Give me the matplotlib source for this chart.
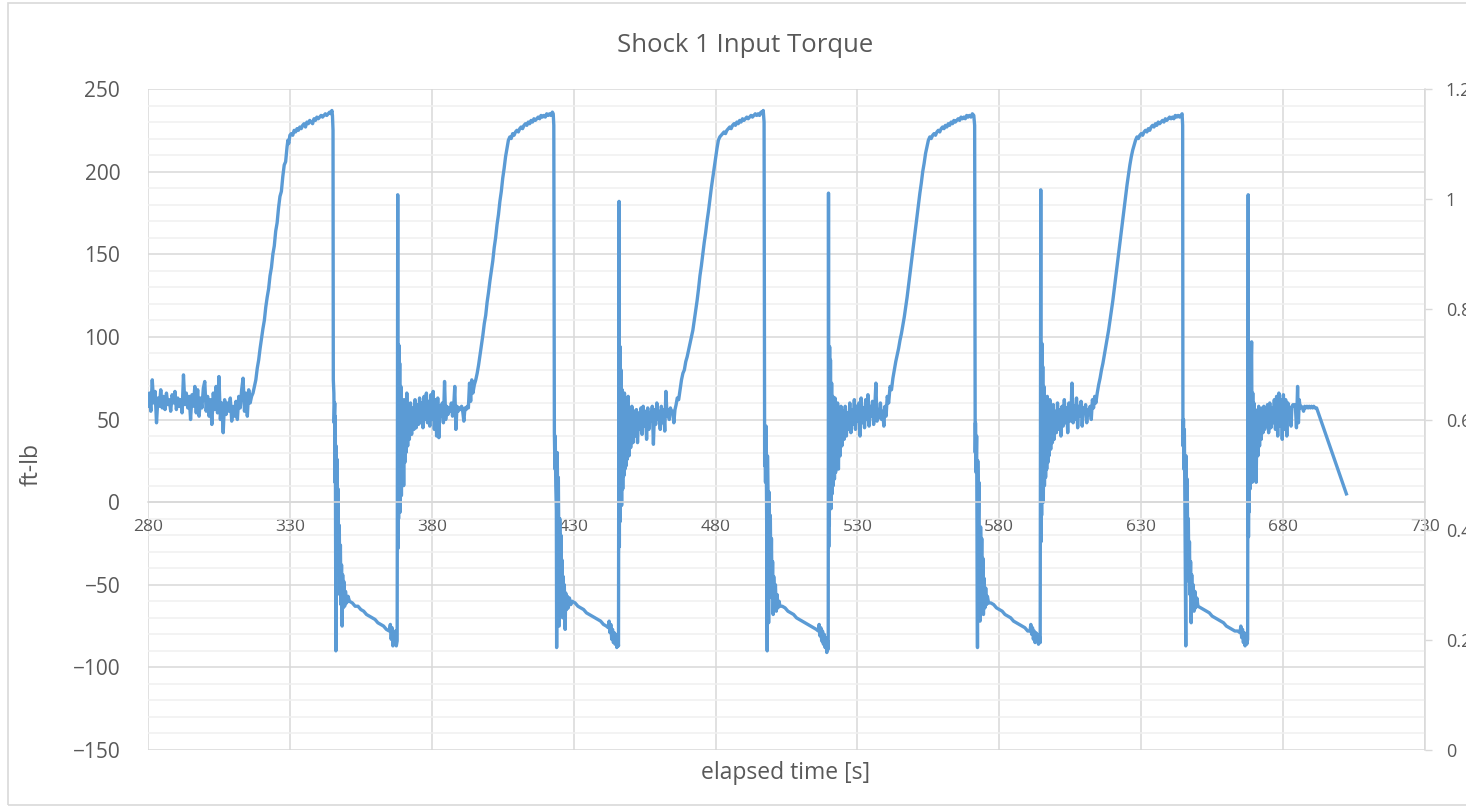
import matplotlib.pyplot as plt
from matplotlib.patches import Rectangle
from matplotlib.ticker import MultipleLocator

plt.rcParams['font.family'] = ['Open Sans', 'DejaVu Sans']

TEXT = '#595959'
GRID = '#d9d9d9'
MINOR = '#f0f0f0'
BLUE = '#5b9bd5'

# idle torque before the first shock
t_idle = [280.0, 280.5, 281.0, 281.5, 282.0, 282.5, 283.0, 283.5, 284.0, 284.5,
          285.0, 285.5, 286.0, 286.5, 287.0, 287.5, 288.0, 288.5, 289.0, 289.5,
          290.0, 290.5, 291.0, 291.5, 292.0, 292.5, 293.0, 293.5, 294.0, 294.5,
          295.0, 295.5, 296.0, 296.5, 297.0, 297.5, 298.0, 298.5, 299.0, 299.5,
          300.0, 300.5, 301.0, 301.5, 302.0, 302.5, 303.0, 303.5, 304.0, 304.5,
          305.0, 305.5, 306.0, 306.5, 307.0, 307.5, 308.0, 308.5, 309.0, 309.5,
          310.0, 310.5, 311.0, 311.5, 312.0, 312.5, 313.0, 313.5, 314.0, 314.5,
          315.0, 315.5, 316.0, 316.5]
tq_idle = [58, 66, 55, 74, 60, 67, 48, 63, 58, 68,
           57, 64, 56, 66, 59, 62, 55, 65, 60, 67,
           56, 63, 58, 62, 54, 77, 59, 66, 57, 64,
           50, 65, 58, 70, 54, 68, 52, 63, 57, 69,
           73, 55, 64, 52, 62, 47, 66, 56, 70, 54,
           76, 50, 60, 42, 62, 53, 60, 55, 63, 49,
           58, 52, 61, 50, 64, 57, 68, 75, 55, 66,
           52, 68, 60, 64]

# shock 1: ramp, hold, release, rebound spike, settle
t_shock1 = [317.0, 317.5, 318.0, 318.5, 319.0, 319.5, 320.0, 320.5, 321.0, 321.5,
            322.0, 322.5, 323.0, 323.5, 324.0, 324.5, 325.0, 325.5, 326.0, 326.5,
            327.0, 327.5, 328.0, 328.5, 329.0, 329.3, 329.6, 330.0,
            330.5, 331.0, 331.5, 332.0, 332.5, 333.0, 333.5, 334.0, 334.5, 335.0,
            335.5, 336.0, 336.5, 337.0, 337.5, 338.0, 338.5, 339.0, 339.5, 340.0,
            340.5, 341.0, 341.5, 342.0, 342.5, 343.0, 343.5, 344.0, 344.5, 344.8, 345.0,
            345.2, 345.3, 345.5, 345.6, 345.8, 345.9, 346.0, 346.1, 346.2, 346.3,
            346.5, 346.6, 346.8, 347.0, 347.2, 347.4, 347.6, 347.8, 348.0, 348.2,
            348.4, 348.6, 348.8, 349.0, 349.3, 349.6, 350.0, 350.5,
            351.0, 352.0, 353.0, 354.0, 355.0, 356.0, 357.0, 358.0, 359.0, 360.0,
            361.0, 362.0, 363.0, 364.0, 365.0,
            365.4, 365.7, 366.0, 366.3, 366.6, 366.9, 367.2, 367.5, 367.8,
            368.0, 368.1, 368.2, 368.3, 368.4, 368.5, 368.7, 368.9, 369.1, 369.3,
            369.5, 369.7, 369.9, 370.1, 370.3, 370.5, 370.7, 370.9, 371.2, 371.5,
            371.8, 372.1, 372.5, 372.9, 373.3, 373.7, 374.1, 374.5, 374.9, 375.3,
            375.7, 376.1, 376.5, 376.9, 377.3, 377.7, 378.1, 378.5, 378.9, 379.3,
            379.7, 380.1, 380.5, 380.9, 381.3, 381.7, 382.1, 382.5, 382.9, 383.3,
            383.7, 384.1, 384.5, 384.9, 385.3, 385.7, 386.1, 386.5, 386.9, 387.3,
            387.7, 388.1, 388.5, 388.9, 389.3, 389.7, 390.1, 390.5, 390.9, 391.3,
            391.7, 392.1, 392.5, 392.9, 393.3, 393.7, 394.1, 394.5]
tq_shock1 = [66, 70, 74, 81, 86, 93, 99, 105, 110, 118,
             124, 129, 137, 142, 150, 155, 164, 169, 178, 185,
             188, 197, 204, 206, 215, 219, 217, 222,
             223, 222, 225, 224, 226, 225, 227, 226, 228, 229,
             227, 230, 229, 231, 230, 229, 232, 231, 233, 232,
             233, 234, 233, 234, 235, 234, 235, 236, 235, 237, 234,
             225, 74, 66, 48, 60, 12, 52, -20, -90, 34,
             -6, 26, -30, 8, -44, -14, -56, -26, -62, -38,
             -75, -44, -64, -48, -63, -54, -61, -57,
             -60, -61, -63, -63, -65, -66, -68, -69, -70, -71,
             -73, -74, -75, -77, -78,
             -74, -83, -76, -87, -80, -86, -78, -87, -84,
             186, -28, 60, -10, 95, 18, 84, -6, 70, 4,
             62, 14, 55, 10, 62, 24, 57, 30, 66, 34,
             58, 38, 60, 41, 57, 44, 62, 45, 59, 47,
             63, 48, 60, 45, 64, 50, 66, 48, 61, 46,
             65, 50, 67, 44, 62, 40, 63, 39, 58, 52,
             60, 48, 73, 50, 58, 53, 57, 55, 60, 52,
             57, 70, 44, 58, 55, 57, 56, 58, 55, 49,
             57, 56, 58, 57, 72, 61, 74, 66]

t_shock2 = [395.0, 395.5, 396.0, 396.5, 397.0, 397.5, 398.0, 398.5, 399.0, 399.5,
            400.0, 400.5, 401.0, 401.5, 402.0, 402.5, 403.0, 403.5, 404.0, 404.5,
            405.0, 405.5, 406.0, 406.5, 407.0, 407.5, 408.0,
            408.5, 409.0, 409.5, 410.0, 410.5, 411.0, 411.5, 412.0, 412.5, 413.0,
            413.5, 414.0, 414.5, 415.0, 415.5, 416.0, 416.5, 417.0, 417.5, 418.0,
            418.5, 419.0, 419.5, 420.0, 420.5, 421.0, 421.5, 422.0, 422.5, 422.8,
            423.0, 423.2, 423.4, 423.5, 423.7, 423.9, 424.0, 424.2, 424.4, 424.6,
            424.8, 424.9, 425.1, 425.3, 425.5, 425.7, 425.9, 426.1, 426.3, 426.5,
            426.7, 427.0, 427.2, 427.5, 427.8, 428.1, 428.5, 429.0,
            429.5, 430.5, 431.5, 432.5, 433.5, 434.5, 435.5, 436.5, 437.5, 438.5,
            439.5, 440.5, 441.5, 442.2,
            442.5, 442.8, 443.1, 443.4, 443.7, 444.0, 444.3, 444.6, 444.9, 445.2,
            445.5, 445.8,
            446.0, 446.1, 446.2, 446.3, 446.4, 446.5, 446.7, 446.9, 447.1, 447.3,
            447.5, 447.7, 447.9, 448.1, 448.3, 448.5, 448.7, 448.9, 449.2, 449.5,
            449.8, 450.1, 450.5, 450.9, 451.3, 451.7, 452.1, 452.5, 452.9, 453.3,
            453.7, 454.1, 454.5, 454.9, 455.3, 455.7, 456.1, 456.5, 456.9, 457.3,
            457.7, 458.1, 458.5, 458.9, 459.3, 459.7, 460.1, 460.5, 460.9, 461.3,
            461.7, 462.1, 462.5, 462.9, 463.3, 463.7, 464.1, 464.5, 464.9, 465.3,
            465.7, 466.1, 466.5]
tq_shock2 = [71, 74, 78, 83, 89, 95, 101, 108, 113, 121,
             127, 134, 140, 146, 154, 160, 168, 174, 182, 188,
             196, 202, 209, 214, 219, 221, 220,
             223, 222, 224, 225, 224, 226, 227, 226, 228, 229,
             228, 230, 229, 231, 230, 232, 231, 232, 233, 232,
             234, 233, 234, 233, 235, 234, 235, 234, 236, 235,
             228, 42, 20, 40, 10, -5, -88, 30, -4, 15,
             -30, -75, -10, -45, -20, -55, -35, -70, -45, -66,
             -50, -77, -55, -65, -57, -64, -58, -62,
             -60, -61, -63, -64, -65, -67, -68, -69, -70, -71,
             -72, -74, -75, -76,
             -72, -79, -74, -83, -77, -85, -79, -86, -80, -88,
             -82, -87,
             182, -27, 55, -12, 94, 12, 80, -2, 68, 8,
             60, 16, 66, 20, 58, 22, 62, 26, 64, 28,
             57, 33, 58, 36, 55, 40, 56, 36, 54, 44,
             57, 41, 58, 46, 55, 38, 57, 44, 54, 49,
             58, 35, 56, 47, 60, 50, 55, 44, 58, 48,
             56, 43, 67, 52, 56, 50, 57, 54, 55, 48,
             56, 59, 63]

t_shock3 = [467.0, 467.5, 468.0, 468.5, 469.0, 469.5, 470.0, 470.5, 471.0, 471.5,
            472.0, 472.5, 473.0, 473.5, 474.0, 474.5, 475.0, 475.5, 476.0, 476.5,
            477.0, 477.5, 478.0, 478.5, 479.0, 479.5, 480.0, 480.5, 481.0, 481.5, 482.0,
            482.5, 483.0, 483.5, 484.0, 484.5, 485.0, 485.5, 486.0, 486.5, 487.0,
            487.5, 488.0, 488.5, 489.0, 489.5, 490.0, 490.5, 491.0, 491.5, 492.0,
            492.5, 493.0, 493.5, 494.0, 494.5, 495.0, 495.5, 496.0, 496.5, 496.8,
            497.1, 497.3, 497.4, 497.6, 497.8, 498.0, 498.2, 498.3, 498.5, 498.7,
            498.9, 499.1, 499.3, 499.5, 499.7, 499.9, 500.1, 500.3, 500.5, 500.8,
            501.1, 501.4, 501.7, 502.0, 502.4, 502.7,
            503.5, 504.5, 505.5, 506.5, 507.5, 508.5, 509.5, 510.5, 511.5, 512.5,
            513.5, 514.5, 515.5, 516.2,
            516.5, 516.8, 517.1, 517.4, 517.7, 518.0, 518.3, 518.6, 518.9, 519.2,
            519.5, 519.7,
            519.8, 519.9, 520.0, 520.1, 520.2, 520.3, 520.5, 520.7, 520.9, 521.1,
            521.3, 521.5, 521.7, 521.9, 522.1, 522.3, 522.5, 522.7, 523.0, 523.3,
            523.6, 523.9, 524.2, 524.5, 524.9, 525.3, 525.7, 526.1, 526.5, 526.9,
            527.3, 527.7, 528.1, 528.5, 528.9, 529.3, 529.7, 530.1, 530.5, 530.9,
            531.3, 531.7, 532.1, 532.5, 532.9, 533.3, 533.7, 534.1, 534.5, 534.9,
            535.3, 535.7, 536.1, 536.5, 536.9, 537.3, 537.7, 538.1, 538.5, 538.9,
            539.3, 539.7, 540.1, 540.5]
tq_shock3 = [62, 68, 74, 78, 80, 85, 88, 92, 96, 100,
             104, 110, 116, 122, 129, 137, 143, 150, 157, 163,
             170, 176, 183, 190, 196, 202, 208, 214, 219, 221, 222,
             223, 224, 223, 225, 226, 227, 226, 228, 229, 228,
             230, 229, 231, 230, 232, 231, 232, 233, 232, 233,
             234, 233, 234, 235, 234, 235, 234, 236, 235, 237,
             230, 22, 38, 12, 46, -8, -90, 28, -2, -73,
             6, -35, -8, -48, -22, -58, -36, -68, -45, -62,
             -50, -66, -56, -64, -60, -63,
             -63, -64, -66, -67, -68, -70, -71, -72, -73, -74,
             -75, -76, -77, -78,
             -74, -81, -76, -84, -78, -86, -80, -88, -82, -91,
             -84, -89,
             187, -27, 58, -14, 94, 8, 86, -4, 72, 5,
             64, 10, 58, 14, 63, 18, 56, 24, 60, 20,
             55, 28, 58, 34, 55, 38, 58, 40, 54, 44,
             60, 42, 56, 47, 62, 44, 58, 49, 60, 40,
             63, 48, 57, 45, 62, 50, 65, 46, 58, 52,
             61, 47, 57, 72, 49, 56, 51, 60, 50, 55,
             46, 58, 52, 64]

t_shock4 = [541.0, 541.5, 542.0, 542.5, 543.0, 543.5, 544.0, 544.5, 545.0, 545.5,
            546.0, 546.5, 547.0, 547.5, 548.0, 548.5, 549.0, 549.5, 550.0, 550.5,
            551.0, 551.5, 552.0, 552.5, 553.0, 553.5, 554.0, 554.5, 555.0, 555.5, 556.0,
            556.5, 557.0, 557.5, 558.0, 558.5, 559.0, 559.5, 560.0, 560.5, 561.0,
            561.5, 562.0, 562.5, 563.0, 563.5, 564.0, 564.5, 565.0, 565.5, 566.0,
            566.5, 567.0, 567.5, 568.0, 568.5, 569.0, 569.5, 570.0, 570.5, 571.0,
            571.3, 571.5, 571.6, 571.8, 572.0, 572.1, 572.3, 572.4, 572.6, 572.8,
            573.0, 573.2, 573.4, 573.6, 573.8, 574.0, 574.2, 574.4, 574.6, 574.9,
            575.2, 575.5, 575.8, 576.2,
            577.0, 578.0, 579.0, 580.0, 581.0, 582.0, 583.0, 584.0, 585.0, 586.0,
            587.0, 588.0, 589.0, 590.0, 590.8,
            591.1, 591.4, 591.7, 592.0, 592.3, 592.6, 592.9, 593.2, 593.5, 593.8,
            594.1, 594.4,
            594.6, 594.7, 594.8, 594.9, 595.0, 595.1, 595.3, 595.5, 595.7, 595.9,
            596.1, 596.3, 596.5, 596.7, 596.9, 597.1, 597.3, 597.5, 597.8, 598.1,
            598.4, 598.7, 599.0, 599.3, 599.7, 600.1, 600.5, 600.9, 601.3, 601.7,
            602.1, 602.5, 602.9, 603.3, 603.7, 604.1, 604.5, 604.9, 605.3, 605.6,
            606.0, 606.4, 606.8, 607.2, 607.6, 608.0, 608.4, 608.8, 609.2, 609.6,
            610.0, 610.4, 610.8, 611.2, 611.6, 612.0, 612.4, 612.8, 613.2, 613.6]
tq_shock4 = [60, 70, 68, 75, 80, 85, 89, 93, 98, 102,
             107, 112, 118, 124, 131, 138, 145, 152, 159, 166,
             173, 180, 187, 193, 200, 205, 211, 215, 219, 221, 220,
             222, 223, 222, 224, 225, 224, 226, 227, 226, 228,
             227, 229, 228, 230, 229, 231, 230, 231, 232, 231,
             233, 232, 233, 232, 234, 233, 234, 233, 235, 234,
             228, 30, 48, 18, 40, -6, -88, 25, -10, 12,
             -28, -72, -15, -46, -22, -58, -34, -68, -46, -64,
             -52, -62, -57, -61,
             -61, -62, -64, -65, -66, -68, -69, -70, -72, -73,
             -74, -75, -76, -78, -78,
             -74, -80, -76, -83, -78, -85, -79, -84, -80, -86,
             -81, -85,
             189, -24, 62, -8, 96, 16, 82, 0, 70, 10,
             63, 15, 58, 20, 64, 24, 57, 28, 62, 32,
             56, 36, 59, 38, 55, 42, 60, 44, 56, 40,
             58, 46, 62, 48, 57, 42, 60, 49, 56, 72,
             48, 58, 50, 63, 45, 58, 52, 61, 46, 57,
             54, 59, 48, 56, 53, 58, 50, 62, 57, 64]

# last shock, then the run-down at the end of the log
t_shock5 = [614.0, 614.5, 615.0, 615.5, 616.0, 616.5, 617.0, 617.5, 618.0, 618.5,
            619.0, 619.5, 620.0, 620.5, 621.0, 621.5, 622.0, 622.5, 623.0, 623.5,
            624.0, 624.5, 625.0, 625.5, 626.0, 626.5, 627.0, 627.5, 628.0, 628.5,
            629.0, 629.5,
            630.0, 630.5, 631.0, 631.5, 632.0, 632.5, 633.0, 633.5, 634.0, 634.5,
            635.0, 635.5, 636.0, 636.5, 637.0, 637.5, 638.0, 638.5, 639.0, 639.5,
            640.0, 640.5, 641.0, 641.5, 642.0, 642.5, 643.0, 643.5, 644.0, 644.4,
            644.6, 644.7, 644.9, 645.0, 645.2, 645.4, 645.7, 645.8, 646.0, 646.2,
            646.4, 646.6, 646.8, 647.0, 647.2, 647.4, 647.6, 647.8, 648.0, 648.3,
            648.6, 648.9, 649.2, 649.6, 650.0,
            651.0, 652.0, 653.0, 654.0, 655.0, 656.0, 657.0, 658.0, 659.0, 660.0,
            661.0, 662.0, 663.0, 664.0, 664.8,
            665.1, 665.4, 665.7, 666.0, 666.3, 666.6, 666.9, 667.2, 667.5,
            667.7, 667.8, 667.9, 668.0, 668.2, 668.4, 668.6, 668.9, 669.1, 669.3,
            669.5, 669.7, 669.9, 670.2, 670.5, 670.8, 671.1, 671.4, 671.7, 672.0,
            672.3, 672.6, 672.9, 673.2, 673.5, 673.8, 674.1, 674.5, 674.9, 675.3,
            675.7, 676.1, 676.5, 676.9, 677.3, 677.7, 678.1, 678.5, 678.9, 679.3,
            679.7, 680.1, 680.5, 680.9, 681.3, 681.7, 682.1, 682.5, 682.8, 683.1,
            683.5, 683.9, 684.3, 684.7, 685.1, 685.4, 685.7, 686.0, 686.4, 686.8,
            687.2, 687.6, 688.0, 688.4, 688.8, 689.2, 689.6, 690.0, 690.4, 690.8,
            691.2, 691.8, 702.3]
tq_shock5 = [60, 66, 71, 75, 80, 84, 89, 94, 99, 104,
             110, 116, 122, 129, 136, 143, 150, 157, 164, 171,
             178, 185, 192, 198, 204, 209, 213, 216, 219, 221,
             220, 222,
             223, 222, 224, 225, 224, 226, 225, 227, 228, 227,
             229, 228, 230, 229, 230, 231, 230, 232, 231, 232,
             233, 232, 233, 232, 234, 233, 234, 233, 234, 235,
             228, 34, 50, 20, 44, -4, -87, 28, -8, 14,
             -32, -10, -48, -24, -56, -36, -73, -44, -64, -50,
             -66, -54, -64, -58, -63,
             -64, -65, -66, -67, -69, -70, -71, -72, -73, -75,
             -76, -77, -78, -78, -79,
             -75, -82, -77, -85, -79, -87, -81, -86, -83,
             186, -21, 52, -6, 86, 8, 72, 97, 12, 66,
             16, 60, 20, 56, 12, 54, 28, 58, 34, 55,
             38, 57, 42, 58, 44, 57, 46, 59, 42, 60,
             45, 57, 48, 62, 44, 64, 40, 66, 46, 62,
             38, 65, 44, 62, 40, 60, 52, 57, 46, 58,
             59, 58, 59, 45, 70, 48, 62, 57, 58, 57,
             55, 58, 57, 58, 57, 58, 57, 58, 57, 58,
             57, 57, 5]

time = t_idle + t_shock1 + t_shock2 + t_shock3 + t_shock4 + t_shock5
torque = tq_idle + tq_shock1 + tq_shock2 + tq_shock3 + tq_shock4 + tq_shock5

x_ticks = [280, 330, 380, 430, 480, 530, 580, 630, 680, 730]
right_ticks = [0, 0.2, 0.4, 0.6, 0.8, 1.0, 1.2]
right_labels = ['0', '0.2', '0.4', '0.6', '0.8', '1', '1.2']

W, H = 1466, 809
fig = plt.figure(figsize=(W / 100, H / 100), dpi=100)
fig.patches.append(Rectangle((8 / W, 4 / H), 1.2, 802 / H, transform=fig.transFigure,
                             fill=False, edgecolor=GRID, lw=1.2))

ax = fig.add_axes([148 / W, 1 - 750 / H, (1425 - 148) / W, (750 - 89) / H])
ax.set_xlim(280, 730)
ax.set_ylim(-150, 250)
ax.set_xticks(x_ticks)
ax.yaxis.set_major_locator(MultipleLocator(50))
ax.yaxis.set_minor_locator(MultipleLocator(10))
ax.grid(which='major', color=GRID, lw=1.1)
ax.grid(which='minor', axis='y', color=MINOR, lw=1.1)
ax.set_axisbelow(True)

for side in ['left', 'top', 'right']:
    ax.spines[side].set_visible(False)
ax.spines['bottom'].set_position(('data', 0))
ax.spines['bottom'].set_color(GRID)
ax.spines['bottom'].set_linewidth(1.1)

ax.tick_params(axis='x', length=0, pad=12, labelsize=12.5, colors=TEXT)
ax.tick_params(axis='y', which='both', length=0, pad=20, labelsize=15, colors=TEXT)

ax.plot(time, torque, color=BLUE, lw=2.4, solid_joinstyle='round')

ax2 = ax.twinx()
ax2.set_ylim(0, 1.2)
ax2.set_yticks(right_ticks)
ax2.set_yticklabels(right_labels)
for side in ['left', 'top', 'bottom']:
    ax2.spines[side].set_visible(False)
ax2.spines['right'].set_color(GRID)
ax2.spines['right'].set_linewidth(1.1)
ax2.tick_params(axis='y', length=5, width=1, color=GRID, pad=10,
                labelsize=13, labelcolor=TEXT)

fig.text(745 / W, 1 - 45 / H, 'Shock 1 Input Torque', ha='center', va='center',
         fontsize=18.5, color=TEXT)
fig.text(786 / W, 1 - 773 / H, 'elapsed time [s]', ha='center', va='center',
         fontsize=16.5, color=TEXT)
fig.text(32 / W, 1 - 465 / H, 'ft-lb', ha='center', va='center', rotation=90,
         fontsize=16.5, color=TEXT)

fig.savefig('out.png', dpi=100)
